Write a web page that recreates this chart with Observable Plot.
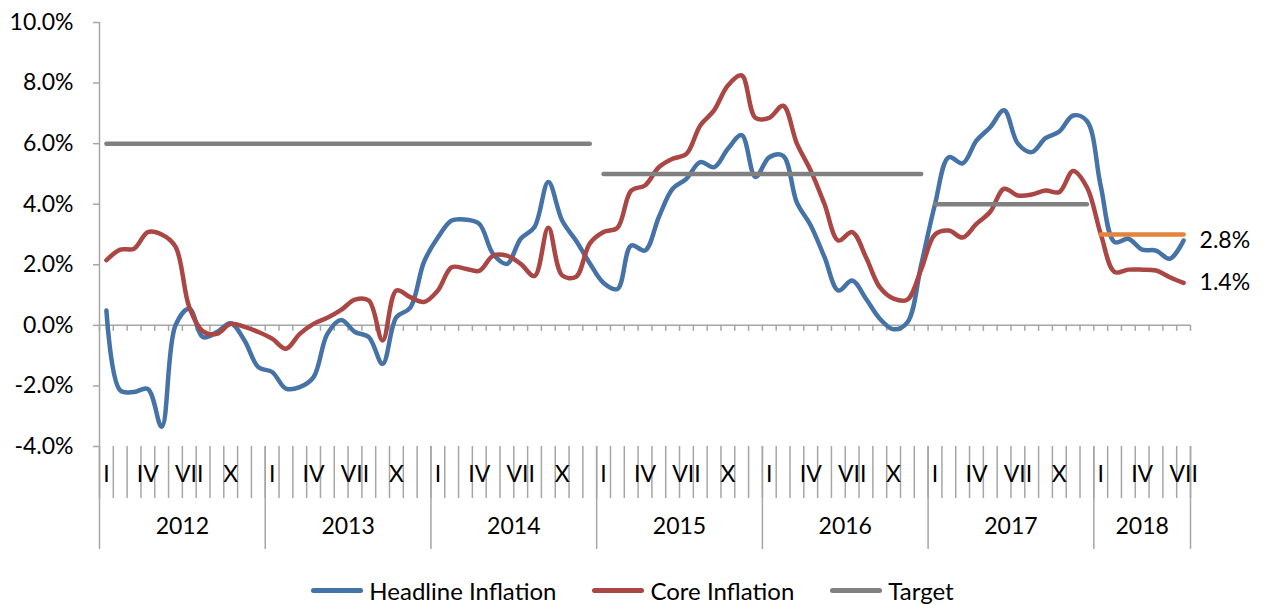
<!DOCTYPE html>
<html>
<head>
<meta charset="utf-8">
<script src="https://cdn.jsdelivr.net/npm/d3@7"></script>
<script src="https://cdn.jsdelivr.net/npm/@observablehq/plot@0.6"></script>
<style>
  html, body { margin: 0; padding: 0; background: #fff; }
  body { width: 1265px; height: 605px; position: relative; overflow: hidden; font-family: Lato, "Open Sans", sans-serif; }
  #chart { position: absolute; left: 0; top: 0; }
  #legend { position: absolute; left: 0; top: 575px; width: 1265px; height: 30px; display: flex; justify-content: center; align-items: center; gap: 36px; font-size: 24px; color: #000; }
  .item { display: flex; align-items: center; }
  .sw { width: 52px; height: 5px; border-radius: 3px; margin-right: 6px; }
</style>
</head>
<body>
<div id="chart"></div>
<div id="legend"></div>
<script>
// ---- data ----
const years = [2012, 2013, 2014, 2015, 2016, 2017, 2018];
const monthsPerYear = [12, 12, 12, 12, 12, 12, 7];
const monthTickLabels = ["I", "", "", "IV", "", "", "VII", "", "", "X", "", ""];

const headline = [
  0.49, -2.15, -2.2, -2.1, -3.35, 0.0, 0.55, -0.39, -0.22, 0.07, -0.5, -1.38,
  -1.54, -2.09, -2.04, -1.71, -0.28, 0.18, -0.22, -0.39, -1.27, 0.27, 0.58, 2.1,
  2.9, 3.46, 3.49, 3.35, 2.36, 2.03, 2.86, 3.25, 4.73, 3.46, 2.8, 2.05,
  1.4, 1.2, 2.64, 2.47, 3.57, 4.51, 4.84, 5.39, 5.22, 5.83, 6.28, 4.9,
  5.55, 5.6, 4.05, 3.3, 2.25, 1.15, 1.48, 0.88, 0.22, -0.13, 0.1, 2.0,
  4.0, 5.55, 5.35, 6.1, 6.54, 7.1, 6.0, 5.72, 6.18, 6.4, 6.93, 6.75,
  4.6, 2.75, 2.86, 2.5, 2.47, 2.2, 2.8
];
const core = [
  2.15, 2.5, 2.53, 3.08, 3.0, 2.6, 0.6, -0.2, -0.28, 0.05, -0.05, -0.22,
  -0.44, -0.77, -0.28, 0.05, 0.25, 0.51, 0.85, 0.82, -0.5, 1.15, 0.93, 0.77,
  1.15, 1.92, 1.87, 1.8, 2.3, 2.3, 2.03, 1.63, 3.22, 1.65, 1.6, 2.7,
  3.08, 3.22, 4.45, 4.62, 5.22, 5.5, 5.66, 6.6, 7.1, 7.92, 8.25, 6.85,
  6.85, 7.25, 6.0, 5.11, 4.0, 2.8, 3.08, 2.25, 1.26, 0.88, 0.85, 1.85,
  3.0, 3.13, 2.9, 3.35, 3.75, 4.51, 4.29, 4.32, 4.45, 4.4, 5.1, 4.56,
  3.02, 1.76, 1.84, 1.84, 1.81, 1.59, 1.4
];
const targetByYear = [6, 6, 6, 5, 5, 4, 3];
const yTicks = [-4, -2, 0, 2, 4, 6, 8, 10];

const colors = { headline: "#4572A7", core: "#AA4643", target: "#808080", target2018: "#E3843A" };
const axisGray = "#A6A6A6";

// ---- build table ----
const rows = [];
years.forEach((yr, k) => {
  for (let m = 0; m < monthsPerYear[k]; m++) {
    const i = rows.length;
    rows.push({ i, pos: i + 0.5, year: yr, month: monthTickLabels[m],
      headline: headline[i], core: core[i], target: targetByYear[k] });
  }
});
const n = rows.length;
const monthBounds = d3.range(0, n + 1);
const yearBounds = [0];
monthsPerYear.forEach(c => yearBounds.push(yearBounds[yearBounds.length - 1] + c));
const yearCenters = years.map((yr, k) => ({ year: yr, pos: (yearBounds[k] + yearBounds[k + 1]) / 2 }));
const last = rows[n - 1];
const endLabels = [
  { pos: last.pos, v: last.headline, text: last.headline.toFixed(1) + "%" },
  { pos: last.pos, v: last.core, text: last.core.toFixed(1) + "%" }
];

const chart = Plot.plot({
  width: 1265,
  height: 560,
  marginLeft: 99,
  marginRight: 75,
  marginTop: 22,
  marginBottom: 114,
  x: { domain: [0, n], label: null },
  y: { domain: [-4, 10], label: null },
  style: { fontFamily: "Lato, 'Open Sans', sans-serif", fontSize: "23px", color: "#000", background: "#fff", overflow: "visible" },
  marks: [
    // y axis
    Plot.axisY({ ticks: yTicks, tickFormat: d => d.toFixed(1) + "%", tickSize: 6, tickPadding: 20, stroke: axisGray, strokeWidth: 1.5, fontSize: 23, label: null }),
    Plot.ruleX([0], { stroke: axisGray, strokeWidth: 1.5 }),
    // category separators below plot
    Plot.axisX({ ticks: monthBounds, tickSize: 52, tickFormat: () => "", stroke: axisGray, strokeWidth: 1.5, label: null }),
    Plot.axisX({ ticks: yearBounds, tickSize: 103, tickFormat: () => "", stroke: axisGray, strokeWidth: 1.5, label: null }),
    Plot.text(rows, { x: "pos", text: "month", frameAnchor: "bottom", dy: 35, fontSize: 23 }),
    Plot.text(yearCenters, { x: "pos", text: d => String(d.year), frameAnchor: "bottom", dy: 87, fontSize: 23 }),
    // zero line with ticks
    Plot.ruleY([0], { stroke: axisGray, strokeWidth: 1.5 }),
    Plot.ruleX(monthBounds, { x: d => d, y1: 0, y2: 0, insetBottom: -6, stroke: axisGray, strokeWidth: 1.5 }),
    // series
    Plot.line(rows, { x: "pos", y: "headline", stroke: colors.headline, strokeWidth: 4.5, curve: "catmull-rom", strokeLinecap: "round", strokeLinejoin: "round" }),
    Plot.line(rows, { x: "pos", y: "core", stroke: colors.core, strokeWidth: 4.5, curve: "catmull-rom", strokeLinecap: "round", strokeLinejoin: "round" }),
    Plot.line(rows.filter(d => d.year < 2018), { x: "pos", y: "target", z: "target", stroke: colors.target, strokeWidth: 4.5, strokeLinecap: "round" }),
    Plot.line(rows.filter(d => d.year === 2018), { x: "pos", y: "target", stroke: colors.target2018, strokeWidth: 4.5, strokeLinecap: "round" }),
    // end labels
    Plot.text(endLabels, { x: "pos", y: "v", text: "text", textAnchor: "start", dx: 16, fontSize: 23 })
  ]
});
document.getElementById("chart").appendChild(chart);

// legend
const legendItems = [
  { label: "Headline Inflation", color: colors.headline },
  { label: "Core Inflation", color: colors.core },
  { label: "Target", color: colors.target }
];
const lg = document.getElementById("legend");
legendItems.forEach(it => {
  const d = document.createElement("div");
  d.className = "item";
  const s = document.createElement("div");
  s.className = "sw";
  s.style.background = it.color;
  const t = document.createElement("span");
  t.textContent = it.label;
  d.appendChild(s); d.appendChild(t);
  lg.appendChild(d);
});
</script>
</body>
</html>
